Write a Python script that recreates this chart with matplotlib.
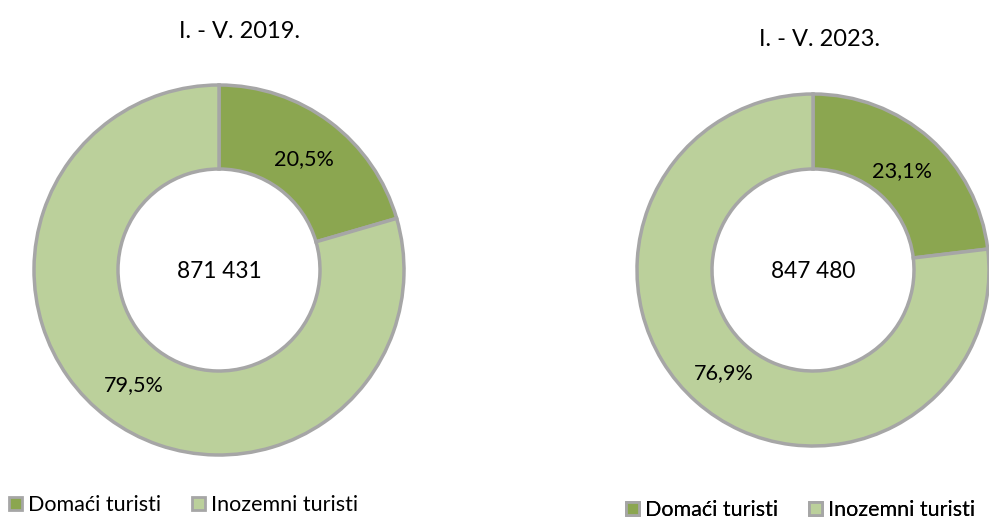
import matplotlib
matplotlib.use("Agg")
import matplotlib.pyplot as plt
from matplotlib.patches import Patch
import numpy as np

plt.rcParams['font.family'] = ['Lato', 'DejaVu Sans']

categories = ["Domaći turisti", "Inozemni turisti"]
titles = ["I. - V. 2019.", "I. - V. 2023."]
totals = ["871 431", "847 480"]
values_2019 = [20.5, 79.5]
values_2023 = [23.1, 76.9]
labels_2019 = ["20,5%", "79,5%"]
labels_2023 = ["23,1%", "76,9%"]

colors = ["#8BA650", "#BBD09B"]
edge = "#A6A6A6"

W, H = 989, 520
fig = plt.figure(figsize=(W / 100, H / 100), dpi=100)
ax = fig.add_axes([0, 0, 1, 1])

specs = [
    dict(vals=values_2019, labs=labels_2019, title=titles[0], total=totals[0],
         cx=219, cy=H - 270, r=185, rin=101, tx=240, ty=H - 29, lx=9, ly=H - 505),
    dict(vals=values_2023, labs=labels_2023, title=titles[1], total=totals[1],
         cx=813, cy=H - 270, r=176, rin=101, tx=820, ty=H - 38, lx=626, ly=H - 510),
]

for s in specs:
    ax.pie(s['vals'], colors=colors, startangle=90, counterclock=False,
           radius=s['r'], center=(s['cx'], s['cy']),
           wedgeprops=dict(width=s['r'] - s['rin'], edgecolor=edge, linewidth=2.5),
           frame=True)
    total = sum(s['vals'])
    start = 90.0
    mid_r = s['r'] * 0.765
    for v, lab in zip(s['vals'], s['labs']):
        ang = start - 360.0 * v / total / 2
        start -= 360.0 * v / total
        x = s['cx'] + mid_r * np.cos(np.radians(ang))
        y = s['cy'] + mid_r * np.sin(np.radians(ang))
        ax.text(x, y, lab, ha='center', va='center_baseline', fontsize=15.6, color='black')
    ax.text(s['cx'], s['cy'], s['total'], ha='center', va='center_baseline', fontsize=16.3, color='black')
    ax.text(s['tx'], s['ty'], s['title'], ha='center', va='center_baseline', fontsize=17, color='black')

    handles = [Patch(facecolor=c, edgecolor=edge, linewidth=2) for c in colors]
    leg = ax.legend(handles, categories, loc='center left',
                    bbox_to_anchor=(s['lx'], s['ly']), bbox_transform=ax.transData,
                    ncol=2, frameon=False, fontsize=15.5, handlelength=0.6, handleheight=0.6,
                    handletextpad=0.3, columnspacing=1.4, borderaxespad=0, borderpad=0)
    ax.add_artist(leg)

ax.set_xlim(0, W)
ax.set_ylim(0, H)
ax.set_aspect('equal')
ax.axis('off')
fig.savefig("out.png", dpi=100, facecolor='white')
